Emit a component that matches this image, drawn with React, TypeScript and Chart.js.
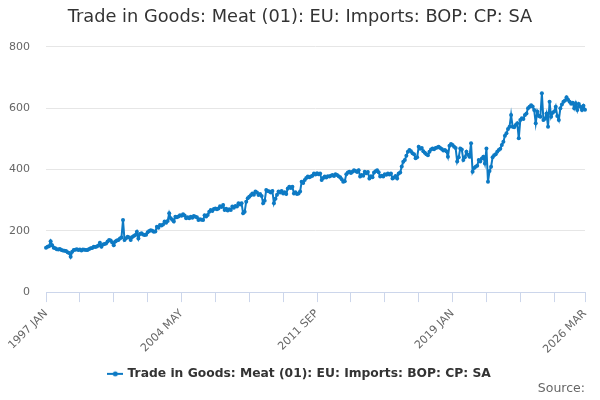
import React, { useEffect, useRef } from 'react';
import { Chart, registerables } from 'chart.js';

Chart.register(...registerables);

const CHART_TITLE = 'Trade in Goods: Meat (01): EU: Imports: BOP: CP: SA';
const SERIES_NAME = 'Trade in Goods: Meat (01): EU: Imports: BOP: CP: SA';
const SOURCE_TEXT = 'Source:';

const MONTHS = ['JAN', 'FEB', 'MAR', 'APR', 'MAY', 'JUN', 'JUL', 'AUG', 'SEP', 'OCT', 'NOV', 'DEC'];
const START_YEAR = 1997;

// Monthly values, one row per year (1997 JAN .. 2026 MAR)
const importValues: number[] = [
  145, 148, 150, 166, 153, 145, 143, 140, 139, 141, 137, 136, // 1997
  135, 134, 130, 128, 115, 132, 137, 138, 140, 137, 139, 136, // 1998
  139, 138, 137, 137, 141, 143, 144, 148, 147, 149, 152, 161, // 1999
  148, 155, 157, 159, 165, 170, 168, 162, 153, 165, 168, 170, // 2000
  175, 178, 235, 170, 176, 181, 178, 170, 180, 183, 186, 197, // 2001
  175, 190, 192, 188, 186, 187, 195, 199, 202, 200, 197, 198, // 2002
  213, 210, 219, 217, 221, 230, 226, 232, 257, 241, 236, 230, // 2003
  246, 244, 247, 251, 249, 254, 250, 241, 244, 241, 246, 243, // 2004
  248, 246, 244, 235, 238, 236, 235, 251, 247, 252, 262, 268, // 2005
  265, 271, 273, 270, 273, 280, 278, 284, 268, 272, 266, 270, // 2006
  268, 279, 275, 281, 279, 290, 286, 290, 257, 262, 295, 306, // 2007
  311, 316, 322, 318, 328, 325, 317, 320, 314, 290, 298, 333, // 2008
  330, 328, 325, 330, 290, 305, 318, 328, 325, 330, 322, 326, // 2009
  320, 338, 344, 340, 344, 322, 326, 320, 322, 328, 360, 356, // 2010
  366, 372, 377, 375, 377, 380, 387, 384, 388, 385, 387, 366, // 2011
  372, 377, 374, 378, 377, 380, 382, 379, 385, 382, 378, 375, // 2012
  368, 360, 362, 385, 390, 393, 389, 393, 398, 395, 392, 398, // 2013
  377, 382, 380, 393, 388, 392, 371, 378, 375, 390, 394, 398, // 2014
  391, 377, 380, 377, 385, 383, 387, 384, 387, 371, 374, 379, // 2015
  371, 387, 390, 410, 425, 431, 445, 458, 464, 460, 453, 450, // 2016
  437, 440, 474, 468, 470, 460, 455, 450, 447, 458, 465, 469, // 2017
  466, 470, 472, 474, 470, 467, 462, 464, 460, 442, 478, 483, // 2018
  480, 474, 470, 426, 440, 469, 465, 431, 440, 458, 448, 442, // 2019
  486, 393, 405, 409, 412, 431, 426, 436, 442, 420, 469, 360, // 2020
  395, 409, 440, 447, 450, 458, 464, 468, 480, 491, 510, 518, // 2021
  532, 540, 578, 540, 538, 545, 551, 502, 562, 567, 565, 578, // 2022
  583, 600, 605, 610, 606, 594, 551, 589, 575, 572, 649, 562, // 2023
  566, 583, 540, 621, 572, 585, 589, 605, 575, 562, 600, 612, // 2024
  621, 625, 636, 628, 621, 615, 618, 600, 616, 594, 614, 605, // 2025
  594, 608, 595, // 2026
];

const categories: string[] = importValues.map(
  (_, i) => `${START_YEAR + Math.floor(i / 12)} ${MONTHS[i % 12]}`
);

// x-axis tick marks every 22 months plus the final month; labels on some of them
const xTickIndices: number[] = [0, 22, 44, 66, 88, 110, 132, 154, 176, 198, 220, 242, 264, 286, 308, 330, 350];
const xLabelIndices: number[] = [0, 88, 176, 264, 350];

const yTicks: number[] = [0, 200, 400, 600, 800];

const LINE_COLOR = '#0d7ac4';
const FONT = '"DejaVu Sans", "Noto Sans", sans-serif';

function makeLegendSymbol(color: string): HTMLCanvasElement {
  const c = document.createElement('canvas');
  c.width = 16;
  c.height = 10;
  const ctx = c.getContext('2d');
  if (ctx) {
    ctx.strokeStyle = color;
    ctx.lineWidth = 2;
    ctx.beginPath();
    ctx.moveTo(0, 5);
    ctx.lineTo(16, 5);
    ctx.stroke();
    ctx.fillStyle = color;
    ctx.beginPath();
    ctx.arc(8, 5, 2.5, 0, Math.PI * 2);
    ctx.fill();
  }
  return c;
}

export default function App() {
  const canvasRef = useRef<HTMLCanvasElement | null>(null);

  useEffect(() => {
    document.body.style.margin = '0';
    const canvas = canvasRef.current;
    if (!canvas) return;
    const symbol = makeLegendSymbol(LINE_COLOR);

    const chart = new Chart(canvas, {
      type: 'line',
      data: {
        labels: categories,
        datasets: [
          {
            label: SERIES_NAME,
            data: importValues,
            borderColor: LINE_COLOR,
            backgroundColor: LINE_COLOR,
            borderWidth: 2,
            pointRadius: 2,
            pointBorderWidth: 0,
            pointBackgroundColor: LINE_COLOR,
            tension: 0,
            fill: false,
            yAxisID: 'y',
          },
        ],
      },
      options: {
        animation: false,
        responsive: true,
        maintainAspectRatio: false,
        layout: { padding: { left: 0, right: 0, top: 0, bottom: 0 } },
        plugins: {
          title: {
            display: true,
            text: CHART_TITLE,
            color: '#333333',
            font: { family: FONT, size: 17.8, weight: 'normal' },
            padding: { top: 7, bottom: 18.6 },
          },
          subtitle: {
            display: true,
            fullSize: false,
            text: SOURCE_TEXT,
            position: 'bottom',
            align: 'end',
            color: '#666666',
            font: { family: FONT, size: 12.5, weight: 'normal' },
            padding: { top: -9, bottom: 4 },
          },
          legend: {
            display: true,
            position: 'bottom',
            labels: {
              usePointStyle: true,
              color: '#333333',
              font: { family: FONT, size: 12.3, weight: 'bold' },
              padding: 10,
              generateLabels: (ch: any) => {
                const items = Chart.defaults.plugins.legend.labels.generateLabels(ch);
                return items.map((it: any) => ({ ...it, pointStyle: symbol }));
              },
            },
          },
          tooltip: { enabled: false },
        },
        scales: {
          x: {
            type: 'category',
            offset: false,
            afterBuildTicks: (scale: any) => {
              scale.ticks = xTickIndices.map((v) => ({ value: v }));
            },
            afterFit: (scale: any) => {
              scale.height = 65.6;
            },
            ticks: {
              autoSkip: false,
              minRotation: 45,
              maxRotation: 45,
              color: '#666666',
              font: { family: FONT, size: 11 },
              padding: 5,
              callback: (value: any) =>
                xLabelIndices.includes(Number(value)) ? categories[Number(value)] : '',
            },
            grid: {
              display: true,
              drawOnChartArea: false,
              drawTicks: true,
              tickLength: 10,
              color: '#ccd6eb',
              lineWidth: 1,
            },
            border: { display: true, color: '#ccd6eb', width: 1 },
          },
          y: {
            position: 'left',
            min: 0,
            max: 800,
            afterBuildTicks: (scale: any) => {
              scale.ticks = yTicks.map((v) => ({ value: v }));
            },
            afterFit: (scale: any) => {
              scale.width = 46;
            },
            ticks: {
              color: '#666666',
              font: { family: FONT, size: 11 },
              padding: 16,
            },
            grid: {
              drawTicks: false,
              color: (ctx: any) => (ctx.tick && ctx.tick.value === 0 ? 'rgba(0,0,0,0)' : '#e6e6e6'),
              lineWidth: 1,
            },
            border: { display: false },
          },
          spacer: {
            type: 'linear',
            position: 'right',
            display: true,
            min: 0,
            max: 800,
            afterFit: (scale: any) => {
              scale.width = 15;
            },
            ticks: { display: false },
            grid: { display: false, drawTicks: false },
            border: { display: false },
          },
        },
      },
    });

    return () => {
      chart.destroy();
    };
  }, []);

  return (
    <div style={{ position: 'relative', width: '600px', height: '400px' }}>
      <canvas ref={canvasRef} />
    </div>
  );
}
